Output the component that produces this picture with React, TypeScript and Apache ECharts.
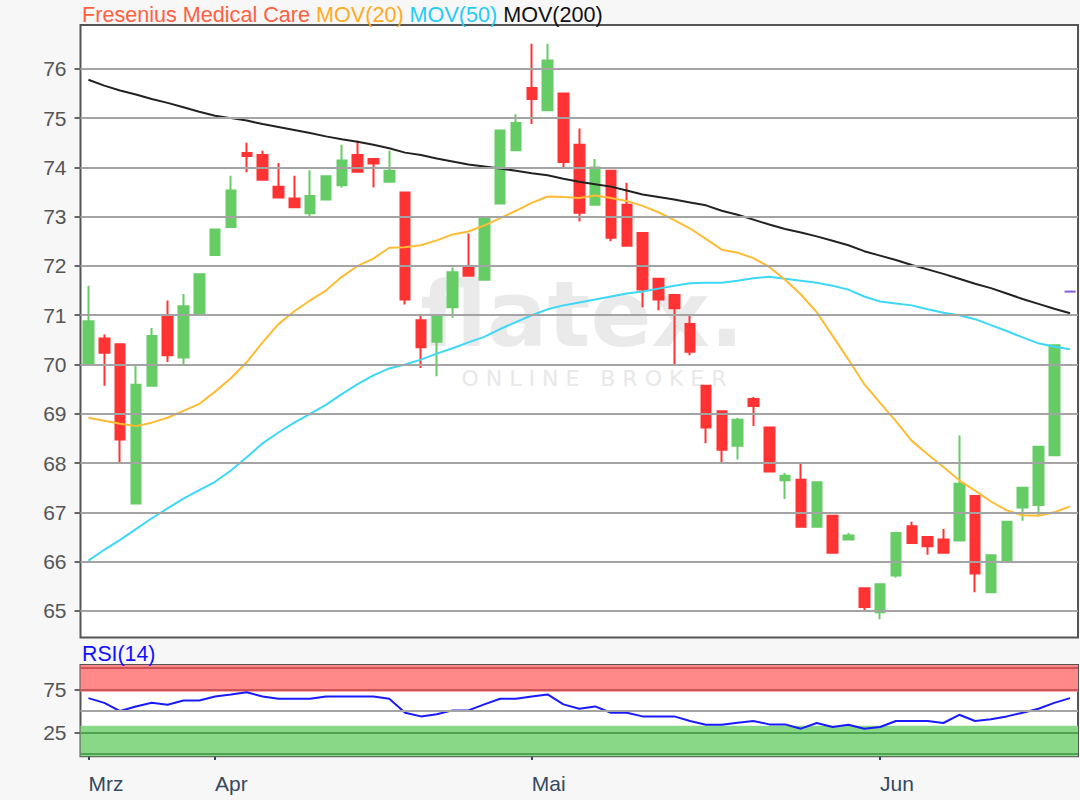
import React, { useEffect, useRef } from "react";
import * as echarts from "echarts";

const dates = [
  "2019-03-20", "2019-03-21", "2019-03-22", "2019-03-25", "2019-03-26", "2019-03-27", "2019-03-28", "2019-03-29",
  "2019-04-01", "2019-04-02", "2019-04-03", "2019-04-04", "2019-04-05", "2019-04-08", "2019-04-09", "2019-04-10",
  "2019-04-11", "2019-04-12", "2019-04-15", "2019-04-16", "2019-04-17", "2019-04-18", "2019-04-23", "2019-04-24",
  "2019-04-25", "2019-04-26", "2019-04-29", "2019-04-30",
  "2019-05-02", "2019-05-03", "2019-05-06", "2019-05-07", "2019-05-08", "2019-05-09", "2019-05-10", "2019-05-13",
  "2019-05-14", "2019-05-15", "2019-05-16", "2019-05-17", "2019-05-20", "2019-05-21", "2019-05-22", "2019-05-23",
  "2019-05-24", "2019-05-27", "2019-05-28", "2019-05-29", "2019-05-30", "2019-05-31",
  "2019-06-03", "2019-06-04", "2019-06-05", "2019-06-06", "2019-06-07", "2019-06-10", "2019-06-11", "2019-06-12",
  "2019-06-13", "2019-06-14", "2019-06-17", "2019-06-18", "2019-06-19",
];

const opens = [
  70.0, 70.53, 70.41, 67.18, 69.57, 70.98, 70.14, 71.01, 72.22, 72.79,
  74.29, 74.25, 73.61, 73.37, 73.07, 73.35, 73.64, 74.25, 74.17, 73.71,
  73.49, 70.9, 70.46, 71.16, 71.96, 71.72, 73.27, 74.35, 75.61, 75.16,
  75.5, 74.46, 73.24, 73.93, 73.24, 72.67, 71.74, 71.41, 70.82, 69.57,
  69.05, 68.35, 69.3, 68.72, 67.65, 67.66, 66.71, 66.93, 66.45, 65.46,
  64.97, 65.72, 66.72, 66.5, 66.45, 66.43, 67.33, 65.38, 66.0, 67.1,
  67.15, 68.16,
];
const closes = [
  70.88, 70.24, 68.48, 69.59, 70.58, 70.19, 71.18, 71.83, 72.74, 73.53,
  74.23, 73.75, 73.39, 73.19, 73.42, 73.82, 74.14, 73.91, 74.08, 73.93,
  71.32, 70.35, 71.0, 71.87, 71.8, 72.99, 74.75, 74.9, 75.39, 76.17,
  74.11, 73.08, 74.0, 72.57, 72.41, 71.52, 71.32, 71.14, 70.26, 68.72,
  68.27, 68.88, 69.16, 67.83, 67.74, 66.71, 67.61, 66.18, 66.53, 65.08,
  65.54, 66.58, 66.38, 66.31, 66.18, 67.58, 65.76, 66.13, 66.81, 67.5,
  68.33, 70.39,
];
const lows = [
  70.0, 69.57, 67.99, 67.18, 69.57, 70.05, 70.0, 71.01, 72.22, 72.79,
  73.9, 73.75, 73.39, 73.19, 72.99, 73.35, 73.59, 73.91, 73.59, 73.71,
  71.22, 69.93, 69.76, 70.95, 71.8, 71.72, 73.27, 74.35, 74.88, 75.16,
  74.0, 72.9, 73.24, 72.5, 72.41, 71.16, 71.1, 69.99, 70.19, 68.4,
  68.0, 68.07, 68.75, 67.83, 67.27, 66.71, 66.71, 66.18, 66.45, 65.02,
  64.83, 65.68, 66.36, 66.14, 66.18, 66.43, 65.38, 65.38, 66.0, 66.83,
  66.93, 68.16,
];
const highs = [
  71.6, 70.61, 70.42, 69.99, 70.74, 71.3, 71.43, 71.83, 72.74, 73.83,
  74.5, 74.34, 74.09, 73.83, 73.94, 73.82, 74.46, 74.54, 74.17, 74.34,
  73.5, 71.02, 71.0, 71.97, 72.66, 72.99, 74.75, 75.08, 76.51, 76.51,
  75.5, 74.79, 74.17, 73.93, 73.69, 72.67, 71.74, 71.41, 71.0, 69.57,
  69.05, 68.92, 69.34, 68.72, 67.8, 68.0, 67.61, 66.93, 66.58, 65.46,
  65.54, 66.6, 66.81, 66.5, 66.66, 68.56, 67.33, 66.13, 66.81, 67.5,
  68.33, 70.4,
];

const mov20 = [
  68.92, 68.86, 68.8, 68.75, 68.82, 68.92, 69.06, 69.2, 69.45, 69.72,
  70.05, 70.45, 70.82, 71.08, 71.3, 71.5, 71.78, 72.0, 72.15, 72.37,
  72.38, 72.42, 72.52, 72.64, 72.7, 72.82, 72.97, 73.12, 73.28, 73.41,
  73.4, 73.38, 73.43, 73.38, 73.32, 73.22, 73.09, 72.93, 72.76, 72.55,
  72.33, 72.27, 72.16, 71.98, 71.72, 71.42, 71.06, 70.58, 70.1, 69.6,
  69.22, 68.85, 68.45, 68.18, 67.92, 67.65, 67.44, 67.22, 67.04, 66.94,
  66.93, 67.0, 67.12,
];
const mov50 = [
  66.02, 66.24, 66.44, 66.66, 66.88, 67.08, 67.28, 67.45, 67.62, 67.85,
  68.12, 68.4, 68.62, 68.82, 69.0, 69.18, 69.4, 69.6, 69.78, 69.92,
  70.0, 70.1, 70.22, 70.33, 70.45, 70.56, 70.72, 70.86, 71.0, 71.12,
  71.2, 71.26, 71.32, 71.38, 71.44, 71.48, 71.54, 71.6, 71.65, 71.66,
  71.66, 71.7, 71.75, 71.78, 71.74, 71.7, 71.66, 71.6, 71.52, 71.38,
  71.28, 71.24, 71.2, 71.12, 71.05, 71.0, 70.92, 70.8, 70.68, 70.55,
  70.43, 70.36, 70.31,
];
const mov200 = [
  75.78, 75.66, 75.56, 75.48, 75.39, 75.31, 75.22, 75.13, 75.05, 75.0,
  74.95, 74.88, 74.82, 74.76, 74.7, 74.63, 74.57, 74.52, 74.46, 74.39,
  74.3, 74.25, 74.18, 74.12, 74.06, 74.02, 73.98, 73.93, 73.88, 73.84,
  73.77, 73.71, 73.66, 73.61, 73.53, 73.45, 73.4, 73.35, 73.29, 73.23,
  73.12, 73.04, 72.94, 72.84, 72.75, 72.68, 72.6, 72.51, 72.42, 72.3,
  72.21, 72.12, 72.02, 71.93, 71.84, 71.74, 71.64, 71.55, 71.44, 71.33,
  71.23, 71.13, 71.04,
];
const rsi14 = [
  65.1, 59.6, 50.0, 55.4, 59.6, 57.3, 62.4, 62.4, 67.0, 69.4,
  72.0, 67.0, 64.3, 64.3, 64.3, 67.0, 67.0, 67.0, 67.0, 64.3,
  48.0, 43.8, 46.2, 50.8, 50.8, 57.8, 64.3, 64.3, 67.0, 69.4,
  57.8, 52.7, 55.4, 48.0, 48.0, 43.8, 43.8, 43.8, 38.4, 34.1,
  34.1, 36.4, 38.4, 34.5, 34.5, 29.5, 36.1, 31.4, 34.1, 29.5,
  31.4, 38.4, 38.4, 38.4, 36.1, 45.7, 38.4, 40.4, 43.8, 48.0,
  52.7, 59.6, 65.1,
];
const lastMarker = 71.48;

const priceTicks = [65, 66, 67, 68, 69, 70, 71, 72, 73, 74, 75, 76];
const rsiTicks = [25, 75];
const rsiStrongLevels = [0, 25, 75, 100];
const rsiMidLevel = 50;
const rsiOverbought = [72.5, 103.7];
const rsiOversold = [-2.7, 33];
const monthNames = ["Jan", "Feb", "Mrz", "Apr", "Mai", "Jun", "Jul", "Aug", "Sep", "Okt", "Nov", "Dez"];

const FONT = "'Liberation Sans', Arial, sans-serif";

function isMonthStart(i: number): boolean {
  if (i === 0) return true;
  return dates[i].slice(5, 7) !== dates[i - 1].slice(5, 7);
}

export default function App() {
  const ref = useRef<HTMLDivElement>(null);

  useEffect(() => {
    if (!ref.current) return;
    const chart = echarts.init(ref.current, null, { renderer: "svg" });

    const candleData = dates.map((_, i) =>
      i < opens.length ? [opens[i], closes[i], lows[i], highs[i]] : "-"
    );
    const green = "#66cc66";
    const red = "#ff3333";
    const rich = (color: string) => ({ color, fontSize: 21.6, fontFamily: FONT, fontWeight: "normal" });

    const option: any = {
      animation: false,
      backgroundColor: "#f7f7f7",
      textStyle: { fontFamily: FONT },
      title: [
        {
          left: 82,
          top: 3,
          padding: 0,
          text:
            "{a|Fresenius Medical Care} {b|MOV(20)} {c|MOV(50)} {d|MOV(200)}",
          textStyle: {
            fontSize: 21.6,
            fontWeight: "normal",
            fontFamily: FONT,
            rich: {
              a: rich("#ff6040"),
              b: rich("#ffaa22"),
              c: rich("#22ccf5"),
              d: rich("#111111"),
            },
          },
        },
        {
          left: 82,
          top: 643,
          padding: 0,
          text: "RSI(14)",
          textStyle: { color: "#1010ff", fontSize: 21.3, fontWeight: "normal", fontFamily: FONT },
        },
      ],
      graphic: [
        {
          type: "text",
          x: 582,
          y: 314,
          z: 1,
          silent: true,
          style: {
            text: "flatex.",
            fill: "#eaeaea",
            font: "bold 90px 'DejaVu Sans'",
            align: "center",
            verticalAlign: "middle",
          },
        },
        {
          type: "text",
          x: 594,
          y: 378,
          z: 1,
          silent: true,
          style: {
            text: "O N L I N E   B R O K E R",
            fill: "#e8e8e8",
            font: "22px 'DejaVu Sans'",
            align: "center",
            verticalAlign: "middle",
          },
        },
      ],
      grid: [
        {
          left: 80.5,
          right: 2,
          top: 25,
          bottom: 162.5,
          show: true,
          backgroundColor: "#ffffff",
          borderColor: "#555555",
          borderWidth: 2,
        },
        {
          left: 80.5,
          right: 2,
          top: 665,
          bottom: 43.7,
          show: true,
          backgroundColor: "#ffffff",
          borderColor: "#555555",
          borderWidth: 2,
        },
      ],
      xAxis: [
        {
          type: "category",
          gridIndex: 0,
          data: dates,
          boundaryGap: true,
          axisLine: { show: false },
          axisTick: { show: false },
          axisLabel: { show: false },
          splitLine: { show: false },
        },
        {
          type: "category",
          gridIndex: 1,
          data: dates,
          boundaryGap: true,
          axisLine: { show: false },
          axisTick: {
            show: true,
            alignWithLabel: true,
            interval: (i: number) => isMonthStart(i),
            length: 6,
            lineStyle: { color: "#34495e", width: 2 },
          },
          axisLabel: {
            interval: (i: number) => isMonthStart(i),
            formatter: (v: string) => monthNames[parseInt(v.slice(5, 7), 10) - 1],
            align: "left",
            color: "#34495e",
            fontSize: 21,
            fontFamily: FONT,
            margin: 17,
          },
          splitLine: { show: false },
        },
      ],
      yAxis: [
        {
          type: "value",
          gridIndex: 0,
          min: 64.46,
          max: 76.89,
          axisLine: { show: false },
          splitLine: { show: false },
          axisTick: {
            show: true,
            length: 6,
            customValues: priceTicks,
            lineStyle: { color: "#666666", width: 2 },
          },
          axisLabel: {
            customValues: priceTicks,
            color: "#555555",
            fontSize: 21,
            fontFamily: FONT,
            margin: 14,
          },
        },
        {
          type: "value",
          gridIndex: 1,
          min: -2.7,
          max: 103.7,
          axisLine: { show: false },
          splitLine: { show: false },
          axisTick: {
            show: true,
            length: 6,
            customValues: rsiTicks,
            lineStyle: { color: "#666666", width: 2 },
          },
          axisLabel: {
            customValues: rsiTicks,
            color: "#555555",
            fontSize: 21,
            fontFamily: FONT,
            margin: 14,
          },
        },
      ],
      series: [
        {
          name: "gridlines",
          type: "line",
          xAxisIndex: 0,
          yAxisIndex: 0,
          data: [],
          z: 1,
          silent: true,
          markLine: {
            silent: true,
            symbol: ["none", "none"],
            label: { show: false },
            lineStyle: { color: "#a4a4a4", width: 2, type: "solid" },
            data: priceTicks.map((v) => ({ yAxis: v })),
          },
        },
        {
          name: "Fresenius Medical Care",
          type: "candlestick",
          xAxisIndex: 0,
          yAxisIndex: 0,
          z: 2,
          barWidth: 10,
          data: candleData,
          itemStyle: {
            color: green,
            color0: red,
            borderColor: green,
            borderColor0: red,
            borderWidth: 2,
          },
        },
        {
          name: "MOV(200)",
          type: "line",
          xAxisIndex: 0,
          yAxisIndex: 0,
          z: 3,
          data: mov200,
          symbol: "none",
          lineStyle: { color: "#222222", width: 2 },
        },
        {
          name: "MOV(50)",
          type: "line",
          xAxisIndex: 0,
          yAxisIndex: 0,
          z: 3,
          data: mov50,
          symbol: "none",
          lineStyle: { color: "#3dd8f8", width: 2 },
        },
        {
          name: "MOV(20)",
          type: "line",
          xAxisIndex: 0,
          yAxisIndex: 0,
          z: 3,
          data: mov20,
          symbol: "none",
          lineStyle: { color: "#ffbb33", width: 2 },
        },
        {
          name: "last",
          type: "scatter",
          xAxisIndex: 0,
          yAxisIndex: 0,
          z: 4,
          symbol: "rect",
          symbolSize: [11, 2],
          itemStyle: { color: "#6633cc" },
          data: [[dates[dates.length - 1], lastMarker]],
        },
        {
          name: "rsiBands",
          type: "line",
          xAxisIndex: 1,
          yAxisIndex: 1,
          data: [],
          z: 1,
          silent: true,
          markArea: {
            silent: true,
            data: [
              [
                { yAxis: rsiOverbought[0], itemStyle: { color: "#ff8888", opacity: 1 } },
                { yAxis: rsiOverbought[1] },
              ],
              [
                { yAxis: rsiOversold[0], itemStyle: { color: "#88d888", opacity: 1 } },
                { yAxis: rsiOversold[1] },
              ],
            ],
          },
        },
        {
          name: "rsiLevels",
          type: "line",
          xAxisIndex: 1,
          yAxisIndex: 1,
          data: [],
          z: 2,
          silent: true,
          markLine: {
            silent: true,
            symbol: ["none", "none"],
            label: { show: false },
            data: [
              ...rsiStrongLevels.map((v) => ({
                yAxis: v,
                lineStyle: {
                  color: v > 50 ? "#c44c4c" : "#479a47",
                  width: 2,
                  type: "solid",
                  opacity: 0.85,
                },
              })),
              { yAxis: rsiMidLevel, lineStyle: { color: "#a4a4a4", width: 2, type: "solid" } },
            ],
          },
        },
        {
          name: "RSI(14)",
          type: "line",
          xAxisIndex: 1,
          yAxisIndex: 1,
          z: 3,
          data: rsi14,
          symbol: "none",
          lineStyle: { color: "#1a1aff", width: 2 },
        },
      ],
    };

    chart.setOption(option);
    return () => chart.dispose();
  }, []);

  return (
    <div
      ref={ref}
      style={{ position: "fixed", left: 0, top: 0, width: 1080, height: 800 }}
    />
  );
}
